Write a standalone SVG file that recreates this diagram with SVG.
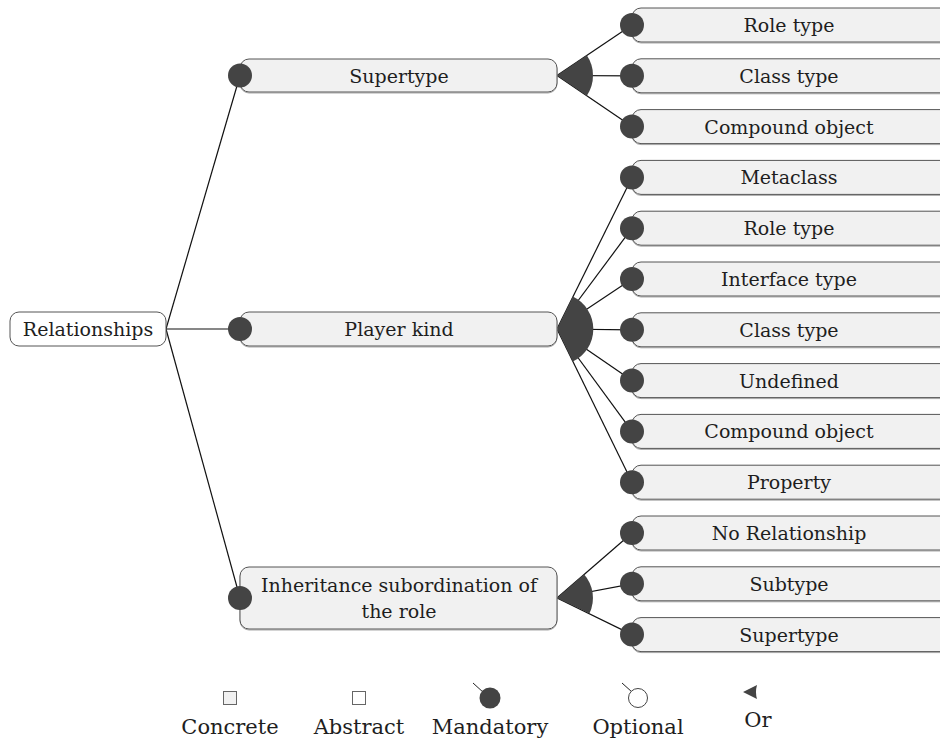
<svg xmlns="http://www.w3.org/2000/svg" width="940" height="744" viewBox="0 0 940 744">
  <style>
    text { font-family: "DejaVu Serif", "Liberation Serif", serif; fill: #1e1e1e; }
    .lbl { font-size: 19px; text-anchor: middle; dominant-baseline: central; }
    .leg { font-size: 21px; text-anchor: middle; }
    .box { fill: #f1f1f1; stroke: #555; stroke-width: 1; }
    .shadow { fill: none; stroke: #aaa; stroke-width: 1; }
    .root { fill: #ffffff; stroke: #555; stroke-width: 1; }
    .mand { fill: #444; }
    .or { fill: #444; }
    .edge { stroke: #111; stroke-width: 1.2; fill: none; }
  </style>
  <defs>
    <!-- feature box for child features -->
    <g id="child-box">
      <rect class="shadow" x="632" y="-16" width="320" height="34" rx="9"/>
      <rect class="box" x="632" y="-17" width="320" height="34" rx="9"/>
    </g>
  </defs>

  <!-- connectors -->
  <g id="connectors">
    <line class="edge" x1="166" y1="329" x2="240" y2="75.5"/>
    <line class="edge" x1="166" y1="329" x2="240" y2="329"/>
    <line class="edge" x1="166" y1="329" x2="240" y2="598"/>

    <line class="edge" x1="557" y1="75.5" x2="632" y2="25"/>
    <line class="edge" x1="557" y1="75.5" x2="632" y2="75.8"/>
    <line class="edge" x1="557" y1="75.5" x2="632" y2="126.6"/>

    <line class="edge" x1="557" y1="329" x2="632" y2="177.4"/>
    <line class="edge" x1="557" y1="329" x2="632" y2="228.2"/>
    <line class="edge" x1="557" y1="329" x2="632" y2="279"/>
    <line class="edge" x1="557" y1="329" x2="632" y2="329.8"/>
    <line class="edge" x1="557" y1="329" x2="632" y2="380.6"/>
    <line class="edge" x1="557" y1="329" x2="632" y2="431.4"/>
    <line class="edge" x1="557" y1="329" x2="632" y2="482.2"/>

    <line class="edge" x1="557" y1="598" x2="632" y2="533"/>
    <line class="edge" x1="557" y1="598" x2="632" y2="583.8"/>
    <line class="edge" x1="557" y1="598" x2="632" y2="634.6"/>

    <!-- or-group sectors -->
    <path class="or" d="M557,75.5 L586.8,55.3 A36,36 0 0 1 586.8,95.7 Z"/>
    <path class="or" d="M557,329 L572.8,296.6 A36,36 0 0 1 572.8,361.6 Z"/>
    <path class="or" d="M557,598 L584.0,574.2 A36,36 0 0 1 589.4,613.6 Z"/>
  </g>

  <!-- root -->
  <g id="relationships">
    <rect class="root" x="10" y="312" width="156" height="34" rx="9"/>
    <text class="lbl" x="88" y="329">Relationships</text>
  </g>

  <!-- first level features -->
  <g id="supertype">
    <rect class="shadow" x="240" y="60" width="317" height="33" rx="9"/>
    <rect class="box" x="240" y="59" width="317" height="33" rx="9"/>
    <circle class="mand" cx="240" cy="75.5" r="12"/>
    <text class="lbl" x="399" y="75.5">Supertype</text>
  </g>
  <g id="player-kind">
    <rect class="shadow" x="240" y="313" width="317" height="34" rx="9"/>
    <rect class="box" x="240" y="312" width="317" height="34" rx="9"/>
    <circle class="mand" cx="240" cy="329" r="12"/>
    <text class="lbl" x="399" y="329">Player kind</text>
  </g>
  <g id="inheritance">
    <rect class="shadow" x="240" y="568" width="317" height="62" rx="9"/>
    <rect class="box" x="240" y="567" width="317" height="62" rx="9"/>
    <circle class="mand" cx="240" cy="598" r="12"/>
    <text class="lbl" x="399" y="585">Inheritance subordination of</text>
    <text class="lbl" x="399" y="611">the role</text>
  </g>

  <!-- second level features -->
  <g id="st-role-type" transform="translate(0,25)">
    <use href="#child-box"/><circle class="mand" cx="632" cy="0" r="12"/>
    <text class="lbl" x="789" y="0">Role type</text>
  </g>
  <g id="st-class-type" transform="translate(0,75.8)">
    <use href="#child-box"/><circle class="mand" cx="632" cy="0" r="12"/>
    <text class="lbl" x="789" y="0">Class type</text>
  </g>
  <g id="st-compound-object" transform="translate(0,126.6)">
    <use href="#child-box"/><circle class="mand" cx="632" cy="0" r="12"/>
    <text class="lbl" x="789" y="0">Compound object</text>
  </g>

  <g id="pk-metaclass" transform="translate(0,177.4)">
    <use href="#child-box"/><circle class="mand" cx="632" cy="0" r="12"/>
    <text class="lbl" x="789" y="0">Metaclass</text>
  </g>
  <g id="pk-role-type" transform="translate(0,228.2)">
    <use href="#child-box"/><circle class="mand" cx="632" cy="0" r="12"/>
    <text class="lbl" x="789" y="0">Role type</text>
  </g>
  <g id="pk-interface-type" transform="translate(0,279)">
    <use href="#child-box"/><circle class="mand" cx="632" cy="0" r="12"/>
    <text class="lbl" x="789" y="0">Interface type</text>
  </g>
  <g id="pk-class-type" transform="translate(0,329.8)">
    <use href="#child-box"/><circle class="mand" cx="632" cy="0" r="12"/>
    <text class="lbl" x="789" y="0">Class type</text>
  </g>
  <g id="pk-undefined" transform="translate(0,380.6)">
    <use href="#child-box"/><circle class="mand" cx="632" cy="0" r="12"/>
    <text class="lbl" x="789" y="0">Undefined</text>
  </g>
  <g id="pk-compound-object" transform="translate(0,431.4)">
    <use href="#child-box"/><circle class="mand" cx="632" cy="0" r="12"/>
    <text class="lbl" x="789" y="0">Compound object</text>
  </g>
  <g id="pk-property" transform="translate(0,482.2)">
    <use href="#child-box"/><circle class="mand" cx="632" cy="0" r="12"/>
    <text class="lbl" x="789" y="0">Property</text>
  </g>

  <g id="in-no-relationship" transform="translate(0,533)">
    <use href="#child-box"/><circle class="mand" cx="632" cy="0" r="12"/>
    <text class="lbl" x="789" y="0">No Relationship</text>
  </g>
  <g id="in-subtype" transform="translate(0,583.8)">
    <use href="#child-box"/><circle class="mand" cx="632" cy="0" r="12"/>
    <text class="lbl" x="789" y="0">Subtype</text>
  </g>
  <g id="in-supertype" transform="translate(0,634.6)">
    <use href="#child-box"/><circle class="mand" cx="632" cy="0" r="12"/>
    <text class="lbl" x="789" y="0">Supertype</text>
  </g>

  <!-- legend -->
  <g id="legend">
    <rect x="223.5" y="691.5" width="13" height="13" fill="#f1f1f1" stroke="#666"/>
    <text class="leg" x="230" y="734">Concrete</text>

    <rect x="352.5" y="691.5" width="13" height="13" fill="#ffffff" stroke="#666"/>
    <text class="leg" x="359" y="734">Abstract</text>

    <line x1="473" y1="683" x2="484" y2="693" stroke="#222" stroke-width="1"/>
    <circle cx="490" cy="698" r="10.5" fill="#444"/>
    <text class="leg" x="490" y="734">Mandatory</text>

    <line x1="622" y1="683" x2="632" y2="692" stroke="#222" stroke-width="1"/>
    <circle cx="638" cy="698" r="9.5" fill="#ffffff" stroke="#444"/>
    <text class="leg" x="638" y="734">Optional</text>

    <path d="M743,692 L757,685 Q755,692 757,699 Z" fill="#444"/>
    <text class="leg" x="758" y="727">Or</text>
  </g>
</svg>
